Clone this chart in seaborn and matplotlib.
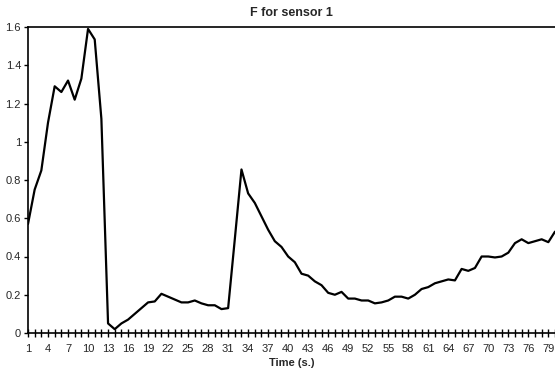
import matplotlib
matplotlib.use("Agg")
import matplotlib.pyplot as plt
import seaborn as sns
import pandas as pd
import numpy as np

time_s = list(range(1, 81))
f_values = [
    0.57, 0.75, 0.85, 1.10, 1.29, 1.26, 1.32, 1.22, 1.33, 1.59,
    1.535, 1.12, 0.05, 0.02, 0.05, 0.07, 0.10, 0.13, 0.16, 0.165,
    0.205, 0.19, 0.175, 0.16, 0.16, 0.17, 0.155, 0.145, 0.145, 0.125,
    0.13, 0.49, 0.855, 0.73, 0.68, 0.61, 0.54, 0.48, 0.45, 0.40,
    0.37, 0.31, 0.30, 0.27, 0.25, 0.21, 0.20, 0.215, 0.18, 0.18,
    0.17, 0.17, 0.155, 0.16, 0.17, 0.19, 0.19, 0.18, 0.20, 0.23,
    0.24, 0.26, 0.27, 0.28, 0.275, 0.335, 0.325, 0.34, 0.40, 0.40,
    0.395, 0.40, 0.42, 0.47, 0.49, 0.47, 0.48, 0.49, 0.475, 0.53,
]
tick_labels = [str(t) for t in range(1, 80, 3)]
y_ticks = [0, 0.2, 0.4, 0.6, 0.8, 1.0, 1.2, 1.4, 1.6]
y_tick_labels = ["0", "0.2", "0.4", "0.6", "0.8", "1", "1.2", "1.4", "1.6"]

df = pd.DataFrame({"Time": time_s, "F": f_values})

sns.set_style("white")
plt.rcParams["font.family"] = ["Liberation Sans", "DejaVu Sans"]

fig = plt.figure(figsize=(5.55, 3.79), dpi=100)
ax = fig.add_axes([28 / 555, 1 - 333 / 379, 1 - 28 / 555, (333 - 27) / 379])

sns.lineplot(data=df, x="Time", y="F", ax=ax, color="black", linewidth=1.6)

ax.set_xlim(1, 80)
ax.set_ylim(0, 1.6)
ax.set_xticks(range(1, 81), minor=True)
ax.set_xticks([int(t) for t in tick_labels])
ax.set_xticklabels(tick_labels, fontsize=8)
ax.set_yticks(y_ticks)
ax.set_yticklabels(y_tick_labels, fontsize=8)
ax.tick_params(axis="x", which="both", bottom=True, direction="inout", length=6, width=1, color="black", pad=5)
ax.tick_params(axis="y", which="both", left=True, direction="out", length=3, width=1, color="black", pad=2)

for s in ["left", "top", "bottom"]:
    ax.spines[s].set_visible(True)
    ax.spines[s].set_color("black")
    ax.spines[s].set_linewidth(1.2)
ax.spines["right"].set_visible(False)

ax.set_xlabel("Time (s.)", fontsize=8, fontweight="bold", labelpad=3)
ax.set_ylabel("")
ax.set_title("F for sensor 1", fontsize=9, fontweight="bold", pad=8)

fig.savefig("out.png", dpi=100)
